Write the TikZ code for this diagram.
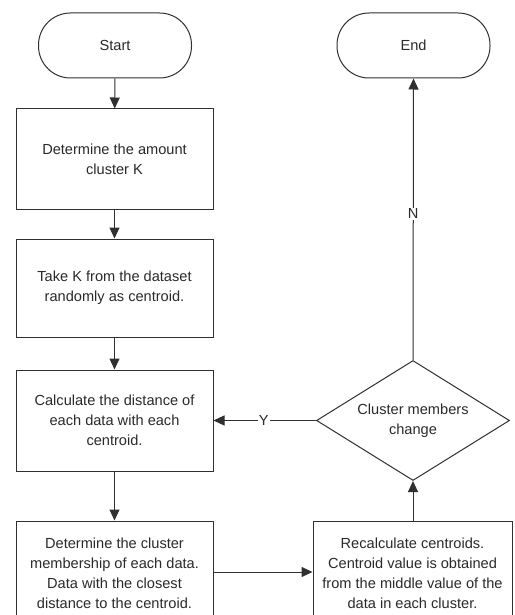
\documentclass[tikz,border=0pt]{standalone}
\usepackage{fontspec}
\setmainfont{Liberation Sans}
\usetikzlibrary{shapes.geometric,arrows.meta}
\definecolor{ln}{HTML}{303030}
\definecolor{tx}{HTML}{2A2A2A}
\begin{document}
\begin{tikzpicture}[x=1pt,y=-1pt,
  every node/.style={text=tx,font=\fontsize{14.6}{20}\selectfont},
  term/.style={draw=ln,line width=1pt,rounded corners=32pt,minimum width=153pt,minimum height=65pt,inner sep=0pt},
  proc/.style={draw=ln,line width=1pt,minimum width=197pt,align=center,inner sep=0pt},
  dec/.style={draw=ln,line width=1pt,shape=diamond,aspect=1.6,inner sep=0pt,minimum width=193pt,minimum height=120pt,align=center},
  flow/.style={draw=ln,line width=1pt,-{Triangle[length=11pt,width=10pt]}},
  lbl/.style={fill=white,inner sep=1pt}]
\useasboundingbox (0,0) rectangle (514,615);
\clip (0,0) rectangle (514,615);
\fill[white] (0,0) rectangle (514,615);
\node[term] (start) at (115,45.5) {Start};
\node[term] (end) at (413.5,45.5) {End};
\node[proc,minimum height=100pt] (b1) at (114.5,159) {Determine the amount\\cluster K};
\node[proc,minimum height=98pt] (b2) at (114.5,288) {Take K from the dataset\\randomly as centroid.};
\node[proc,minimum height=101pt] (b3) at (114.5,420.5) {Calculate the distance of\\each data with each\\centroid.};
\node[proc,minimum height=104pt] (b4) at (114.5,573) {Determine the cluster\\membership of each data.\\Data with the closest\\distance to the centroid.};
\node[proc,minimum height=104pt,minimum width=199pt] (b5) at (412.5,573) {Recalculate centroids.\\Centroid value is obtained\\from the middle value of the\\data in each cluster.};
\node[dec] (d) at (413,420.5) {Cluster members\\change};
\draw[flow] (start) -- (b1);
\draw[flow] (b1) -- (b2);
\draw[flow] (b2) -- (b3);
\draw[flow] (b3) -- (b4);
\draw[flow] (b4.east |- 0,572) -- (b5.west |- 0,572);
\draw[flow] (b5.north -| d.south) -- (d.south);
\draw[flow] (d.west) -- node[lbl,pos=0.51] {Y} (b3.east);
\draw[flow] (d.north) -- node[lbl,pos=0.52] {N} (end.south);
\end{tikzpicture}
\end{document}
